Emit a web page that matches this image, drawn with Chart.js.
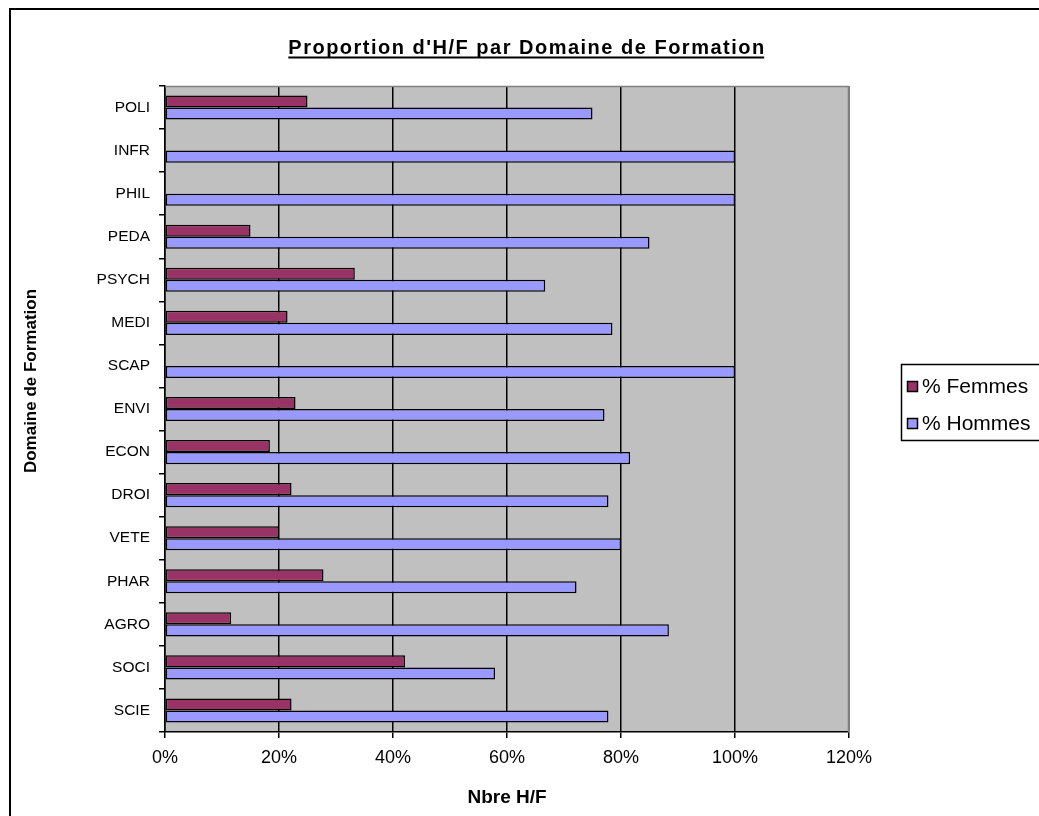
<!DOCTYPE html>
<html>
<head>
<meta charset="utf-8">
<script src="https://cdn.jsdelivr.net/npm/chart.js@4"></script>
<style>
  body { margin: 0; background: #fff; }
  #wrap { width: 1039px; height: 816px; }
</style>
</head>
<body>
<div id="wrap"><canvas id="graphique"></canvas></div>
<script>
// Données (en %)
const domaines = ['POLI', 'INFR', 'PHIL', 'PEDA', 'PSYCH', 'MEDI', 'SCAP', 'ENVI', 'ECON', 'DROI', 'VETE', 'PHAR', 'AGRO', 'SOCI', 'SCIE'];
const pctFemmes = [25, 0, 0, 15, 33.3, 21.5, 0, 22.9, 18.4, 22.2, 20, 27.8, 11.6, 42.1, 22.2];
const pctHommes = [75, 100, 100, 85, 66.7, 78.5, 100, 77.1, 81.6, 77.8, 80, 72.2, 88.4, 57.9, 77.8];
const ticksX = [0, 20, 40, 60, 80, 100, 120];

const police = "'Liberation Sans', Arial, sans-serif";

// fond gris de la zone de tracé + cadre, titre, légende
const decor = {
    id: 'decor',
    beforeDraw(chart) {
        const ctx = chart.ctx;
        const a = chart.chartArea;
        ctx.save();
        ctx.fillStyle = '#C0C0C0';
        ctx.fillRect(a.left, a.top, a.right - a.left, a.bottom - a.top);
        ctx.restore();
    },
    afterDraw(chart) {
        const ctx = chart.ctx;
        const a = chart.chartArea;
        ctx.save();
        // bord gris haut/droite
        ctx.strokeStyle = '#808080';
        ctx.lineWidth = 1.5;
        ctx.beginPath();
        ctx.moveTo(a.left, a.top + 0.5);
        ctx.lineTo(a.right, a.top + 0.5);
        ctx.moveTo(a.right - 0.5, a.top);
        ctx.lineTo(a.right - 0.5, a.bottom);
        ctx.stroke();

        // cadre extérieur
        ctx.strokeStyle = '#000';
        ctx.lineWidth = 2;
        ctx.beginPath();
        ctx.moveTo(10, 816);
        ctx.lineTo(10, 9);
        ctx.lineTo(1039, 9);
        ctx.stroke();

        // titre souligné
        ctx.fillStyle = '#000';
        ctx.font = 'bold 20px ' + police;
        ctx.letterSpacing = '1.5px';
        ctx.textAlign = 'left';
        ctx.textBaseline = 'alphabetic';
        const titre = "Proportion d'H/F par Domaine de Formation";
        const w = ctx.measureText(titre).width;
        ctx.fillText(titre, 527 - w / 2, 54);
        ctx.fillRect(527 - w / 2, 56.5, w - 1.5, 2);
        ctx.letterSpacing = '0px';

        // titre axe Y
        ctx.save();
        ctx.translate(31, 381);
        ctx.rotate(-Math.PI / 2);
        ctx.font = 'bold 17px ' + police;
        ctx.textAlign = 'center';
        ctx.textBaseline = 'middle';
        ctx.fillText('Domaine de Formation', 0, 0);
        ctx.restore();

        // légende
        ctx.lineWidth = 1.5;
        ctx.strokeStyle = '#000';
        ctx.beginPath();
        ctx.moveTo(1039, 364.5);
        ctx.lineTo(901.5, 364.5);
        ctx.lineTo(901.5, 440.5);
        ctx.lineTo(1039, 440.5);
        ctx.stroke();
        ctx.font = '21px ' + police;
        ctx.textAlign = 'left';
        ctx.textBaseline = 'middle';
        const ys = [386, 423];
        chart.data.datasets.forEach((ds, i) => {
            ctx.fillStyle = ds.backgroundColor;
            ctx.fillRect(908, ys[i] - 4, 9, 9);
            ctx.lineWidth = 1.5;
            ctx.strokeRect(907.5, ys[i] - 4.5, 10, 10);
            ctx.fillStyle = '#000';
            ctx.fillText(ds.label, 922, ys[i] + 1);
        });
        ctx.restore();
    }
};

new Chart(document.getElementById('graphique'), {
    type: 'bar',
    data: {
        labels: domaines,
        datasets: [{
            label: '% Femmes',
            data: pctFemmes,
            backgroundColor: '#993366',
            borderColor: '#000',
            borderWidth: 1.5,
            borderSkipped: false
        }, {
            label: '% Hommes',
            data: pctHommes,
            backgroundColor: '#9999FF',
            borderColor: '#000',
            borderWidth: 1.5,
            borderSkipped: false
        }]
    },
    options: {
        indexAxis: 'y',
        responsive: true,
        maintainAspectRatio: false,
        animation: false,
        layout: { padding: { top: 86, right: 190, left: 0, bottom: 0 } },
        datasets: {
            bar: { barPercentage: 1, categoryPercentage: 0.56 }
        },
        plugins: {
            legend: { display: false },
            tooltip: { enabled: false }
        },
        scales: {
            x: {
                min: 0,
                max: 120,
                afterBuildTicks(scale) {
                    scale.ticks = ticksX.map(v => ({ value: v }));
                },
                afterFit(scale) {
                    scale.height = 84;
                    scale.paddingLeft = 0;
                    scale.paddingRight = 0;
                },
                grid: { color: '#000', lineWidth: 1.5, tickLength: 6 },
                border: { color: '#000', width: 1.5 },
                ticks: {
                    color: '#000',
                    padding: 9,
                    font: { family: police, size: 18 },
                    callback: v => v + '%'
                },
                title: {
                    display: true,
                    text: 'Nbre H/F',
                    color: '#000',
                    font: { family: police, size: 19, weight: 'bold' },
                    padding: { top: 0, bottom: 7 }
                }
            },
            y: {
                afterFit(scale) {
                    scale.width = 165;
                    scale.paddingTop = 0;
                    scale.paddingBottom = 0;
                },
                grid: { color: '#000', drawOnChartArea: false, tickLength: 6, lineWidth: 1.5 },
                border: { color: '#000', width: 1.5 },
                ticks: {
                    color: '#000',
                    padding: 9,
                    font: { family: police, size: 15.5 }
                }
            }
        }
    },
    plugins: [decor]
});
</script>
</body>
</html>
